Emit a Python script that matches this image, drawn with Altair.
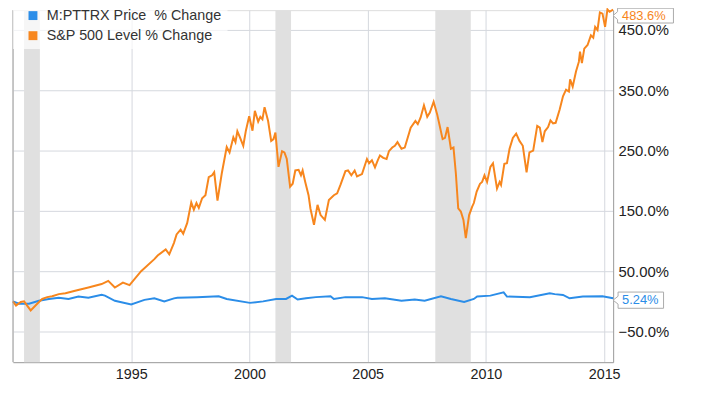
import altair as alt
import pandas as pd

SERIES = ["M:PTTRX Price\u00a0 % Change", "S&P 500 Level % Change"]
COLORS = ["#2b8de8", "#f7861d"]

# M:PTTRX price % change (decimal year, percent)
PTTRX_T = [1990.0, 1990.26, 1990.68, 1991.10, 1991.52, 1991.94, 1992.35, 1992.77, 1993.19,
           1993.75, 1993.89, 1994.31, 1995.00, 1995.56, 1995.98, 1996.40, 1996.81, 1996.95,
           1997.79, 1998.70, 1999.04, 2000.02, 2000.58, 2001.13, 2001.55, 2001.80, 2002.04,
           2002.39, 2002.81, 2003.43, 2003.57, 2004.06, 2004.76, 2005.18, 2005.73, 2006.43,
           2006.99, 2007.41, 2008.10, 2008.52, 2009.08, 2009.49, 2009.63, 2010.19, 2010.75,
           2010.89, 2011.86, 2012.70, 2012.91, 2013.26, 2013.54, 2014.10, 2014.93, 2015.38]
PTTRX_V = [0, -4, -4, 1, 4, 6, 4, 8, 6,
           11, 9.5, 1, -5, 2.5, 5, 0, 5, 6,
           7, 8.5, 4, -2.5, 0, 4, 4, 9.5, 3,
           5, 7, 8.5, 4, 7, 7, 4, 5, 1,
           3, 1, 8.5, 4, -1, 4, 8, 9.5, 15,
           8, 7, 13.4, 12, 10.6, 5, 8, 8.5, 5.24]

# S&P 500 level % change (decimal year, percent)
SPX_T = [1990.0, 1990.13, 1990.33, 1990.47, 1990.75, 1991.10, 1991.24, 1991.45, 1991.66,
         1991.94, 1992.22, 1992.63, 1993.19, 1993.75, 1994.03, 1994.31, 1994.65, 1994.93,
         1995.42, 1995.98, 1996.12, 1996.46, 1996.61, 1996.81, 1996.92, 1997.09, 1997.20,
         1997.37, 1997.54, 1997.65, 1997.76, 1997.86, 1998.00, 1998.14, 1998.28, 1998.42,
         1998.51, 1998.65, 1998.83, 1999.04, 1999.16, 1999.32, 1999.41, 1999.49, 1999.60,
         1999.74, 1999.85, 1999.99, 2000.13, 2000.23, 2000.37, 2000.46, 2000.55, 2000.64,
         2000.79, 2000.92, 2001.02, 2001.10, 2001.23, 2001.38, 2001.48, 2001.58, 2001.72,
         2001.83, 2001.94, 2002.08, 2002.18, 2002.25, 2002.36, 2002.50, 2002.58, 2002.73,
         2002.88, 2003.01, 2003.19, 2003.36, 2003.57, 2003.71, 2003.85, 2004.06, 2004.17,
         2004.31, 2004.45, 2004.55, 2004.76, 2004.97, 2005.06, 2005.18, 2005.31, 2005.43,
         2005.52, 2005.66, 2005.80, 2005.90, 2006.04, 2006.15, 2006.26, 2006.43, 2006.57,
         2006.82, 2007.02, 2007.12, 2007.24, 2007.38, 2007.52, 2007.63, 2007.79, 2007.94,
         2008.03, 2008.17, 2008.27, 2008.38, 2008.52, 2008.63, 2008.73, 2008.83, 2008.94,
         2009.05, 2009.15, 2009.29, 2009.42, 2009.49, 2009.61, 2009.75, 2009.84, 2009.94,
         2010.05, 2010.19, 2010.30, 2010.47, 2010.58, 2010.64, 2010.78, 2010.89, 2011.00,
         2011.14, 2011.28, 2011.42, 2011.56, 2011.72, 2011.84, 2012.00, 2012.17, 2012.28,
         2012.39, 2012.49, 2012.63, 2012.73, 2012.84, 2012.95, 2013.12, 2013.26, 2013.39,
         2013.51, 2013.56, 2013.67, 2013.81, 2013.93, 2013.98, 2014.06, 2014.16, 2014.30,
         2014.44, 2014.54, 2014.62, 2014.72, 2014.82, 2014.93, 2015.04, 2015.14, 2015.23,
         2015.38]
SPX_V = [0, -7, -1, 0, -15, -1, 4, 7, 8.5,
         12, 13.4, 17.7, 23, 28.7, 34, 23, 31, 27,
         50, 70, 76, 86, 78, 97, 111, 119, 112,
         130, 164, 152, 163, 155, 171, 176, 206, 209,
         214, 167, 212, 256, 247, 272, 264, 282, 272,
         258, 283, 307, 283, 316, 298, 306, 302, 322,
         299, 266, 269, 280, 223, 249, 247, 236, 190,
         195, 217, 218, 209, 217, 198, 176, 154, 127,
         160, 143, 135, 168, 176, 179, 193, 216, 217,
         209, 217, 207, 211, 236, 229, 234, 222, 234,
         242, 238, 236, 249, 255, 258, 264, 253, 255,
         288, 299, 294, 305, 325, 306, 313, 331, 310,
         294, 269, 271, 289, 253, 255, 212, 154, 149,
         135, 105, 143, 157, 163, 182, 195, 198, 209,
         198, 223, 229, 187, 198, 193, 228, 229, 253,
         271, 278, 266, 258, 214, 247, 250, 291, 288,
         264, 282, 289, 300, 295, 296, 318, 340, 351,
         348, 368, 356, 381, 397, 414, 395, 419, 425,
         441, 437, 455, 450, 479, 477, 455, 484, 480,
         483.6]

REC_START = [1990.47, 2001.10, 2007.86]
REC_END = [1991.14, 2001.76, 2009.36]

X_DOMAIN = [1990.0, 2015.38]
Y_DOMAIN = [-100.8, 482.8]
X_TICKS = [1995, 2000, 2005, 2010, 2015]
Y_TICKS = [-50, 50, 150, 250, 350, 450]

FONT = "Liberation Sans"

lines_df = pd.concat([
    pd.DataFrame({"t": PTTRX_T, "v": PTTRX_V, "series": SERIES[0]}),
    pd.DataFrame({"t": SPX_T, "v": SPX_V, "series": SERIES[1]}),
], ignore_index=True)

def fmt(v):
    return f"{v:.1f}%" if abs(v) >= 10 else f"{v:.2f}%"

end_df = pd.DataFrame({
    "t": [PTTRX_T[-1], SPX_T[-1]],
    "v": [PTTRX_V[-1], SPX_V[-1]],
    "series": SERIES,
})
end_df["label"] = [fmt(v) for v in end_df["v"]]

rec_df = pd.DataFrame({"start": REC_START, "end": REC_END})
edge_df = pd.DataFrame({"edge": [X_DOMAIN[0]]})

x_scale = alt.Scale(domain=X_DOMAIN, nice=False, zero=False)
y_scale = alt.Scale(domain=Y_DOMAIN, nice=False, zero=False)
color_scale = alt.Scale(domain=SERIES, range=COLORS)

x_axis = alt.Axis(values=X_TICKS, format="d", grid=True, gridColor="#d5d8de", ticks=False,
                  domainColor="#a0a0a0", labelFontSize=14.5, labelColor="#222",
                  labelPadding=6, title=None, labelFlush=False, labelFont=FONT)
y_axis = alt.Axis(orient="right", values=Y_TICKS, grid=True, gridColor="#d5d8de", ticks=False,
                  domainColor="#a0a0a0", labelFontSize=15, labelColor="#222",
                  labelPadding=5, title=None, labelFont=FONT,
                  labelExpr="datum.value == 50 ? '50.00%' : format(datum.value, '.1f') + '%'")

rects = alt.Chart(rec_df).mark_rect(color="#e0e0e0").encode(
    x=alt.X("start:Q", scale=x_scale, axis=x_axis),
    x2="end:Q",
)

lines = alt.Chart(lines_df).mark_line(strokeWidth=2).encode(
    x=alt.X("t:Q", scale=x_scale, axis=x_axis),
    y=alt.Y("v:Q", scale=y_scale, axis=y_axis),
    color=alt.Color("series:N", scale=color_scale, legend=None),
    order="t:Q",
)

edge = alt.Chart(edge_df).mark_rule(color="#a0a0a0", strokeWidth=1).encode(
    x=alt.X("edge:Q", scale=x_scale)
)

SHAPES = [
    "M0,0L5,-4L5,-8.2L51,-8.2L51,8.2L5,8.2L5,4Z",
    "M0,0L4.5,-4L4.5,-7.5L61,-7.5L61,7.5L4.5,7.5L4.5,4Z",
]

# the upper call-out sits a few pixels lower so that it stays inside the page
boxes_low = alt.Chart(end_df).transform_filter(
    alt.datum.series == SERIES[0]
).mark_point(filled=True, fill="white", stroke="#aaaaaa", strokeWidth=1, size=4,
             opacity=1, yOffset=2).encode(
    x=alt.X("t:Q", scale=x_scale),
    y=alt.Y("v:Q", scale=y_scale),
    shape=alt.Shape("series:N", scale=alt.Scale(domain=SERIES, range=SHAPES), legend=None),
)
boxes_high = alt.Chart(end_df).transform_filter(
    alt.datum.series == SERIES[1]
).mark_point(filled=True, fill="white", stroke="#aaaaaa", strokeWidth=1, size=4,
             opacity=1, yOffset=6).encode(
    x=alt.X("t:Q", scale=x_scale),
    y=alt.Y("v:Q", scale=y_scale),
    shape=alt.Shape("series:N", scale=alt.Scale(domain=SERIES, range=SHAPES), legend=None),
)

labels_low = alt.Chart(end_df).transform_filter(
    alt.datum.series == SERIES[0]
).mark_text(align="left", baseline="middle", dx=9, dy=2, fontSize=13, font=FONT).encode(
    x=alt.X("t:Q", scale=x_scale),
    y=alt.Y("v:Q", scale=y_scale),
    text="label:N",
    color=alt.Color("series:N", scale=color_scale, legend=None),
)
labels_high = alt.Chart(end_df).transform_filter(
    alt.datum.series == SERIES[1]
).mark_text(align="left", baseline="middle", dx=9, dy=6, fontSize=13, font=FONT).encode(
    x=alt.X("t:Q", scale=x_scale),
    y=alt.Y("v:Q", scale=y_scale),
    text="label:N",
    color=alt.Color("series:N", scale=color_scale, legend=None),
)

# legend layer: squares drawn from the series list
legend_src = alt.Chart(end_df).mark_square(opacity=0).encode(
    x=alt.X("t:Q", scale=x_scale),
    y=alt.Y("v:Q", scale=y_scale),
    color=alt.Color("series:N", scale=color_scale, legend=alt.Legend(
        orient="none", legendX=0, legendY=-7.75, title=None, symbolType="square",
        symbolSize=81, symbolStrokeWidth=0, symbolOffset=7, symbolOpacity=1,
        labelFontSize=14.5, labelFont=FONT, labelColor="#333", labelOffset=6.7,
        rowPadding=5.3, padding=6, fillColor="rgba(255,255,255,0.7)", labelLimit=0,
    )),
)

chart = alt.layer(rects, lines, edge, boxes_low, boxes_high, labels_low, labels_high,
                  legend_src).resolve_legend(color="independent").properties(
    width=607, height=356,
    autosize=alt.AutoSizeParams(type="none"),
    padding={"left": 5, "top": 0, "right": 100, "bottom": 28},
).configure_view(fill="#eaf0fb", stroke=None).configure(background="white", font=FONT)

chart.save("out.html", embed_options={"renderer": "svg", "actions": False})
